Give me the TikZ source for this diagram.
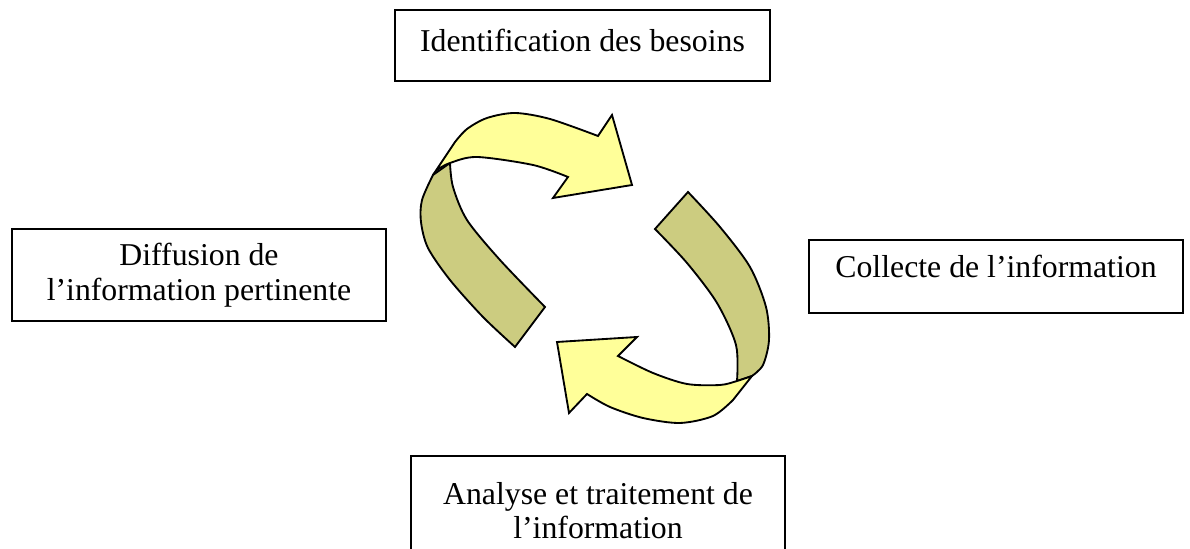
\documentclass[tikz,border=0pt]{standalone}
\usepackage{fontspec}
\setmainfont{Liberation Serif}
\usepackage{xcolor}
\definecolor{ribbon}{RGB}{255,255,153}
\definecolor{ribbonback}{RGB}{204,204,128}
\tikzset{
  stagebox/.style={draw, line width=0.75pt, minimum width=141.4pt, inner sep=0pt, align=center, font=\fontsize{12}{13}\selectfont},
  ribbonpart/.style={draw, line width=0.7pt},
}

\begin{document}
\begin{tikzpicture}[x=0.3776pt, y=-0.3776pt]
	\useasboundingbox (0,0) rectangle (1190,549);
	\clip (0,0) rectangle (1190,549);
	% Stages
	\node[stagebox, minimum height=26.8pt, text height=9pt, text depth=4.1pt] (besoins) at (582.5,45.5) {Identification des besoins};
	\node[stagebox, minimum height=34.7pt] (diffusion) at (199,275) {Diffusion de\\l’information pertinente};
	\node[stagebox, minimum height=27.6pt, text height=9pt, text depth=7.9pt] (collecte) at (996,276.5) {Collecte de l’information};
	\node[stagebox, minimum height=41.2pt] (analyse) at (598,510.5) {Analyse et traitement de\\l’information};
	% Upper left arrow
	\draw[ribbonpart, fill=ribbonback] plot[smooth] coordinates {(433,175) (422,200) (421,222) (428,248) (450,280) (483,317) (515,347)} -- (545,307) -- plot[smooth] coordinates {(545,307) (500,260) (467,220) (453,187) (450,163)} -- cycle;
	\draw[ribbonpart, fill=ribbon] (433,175) -- (455,142) -- plot[smooth] coordinates {(455,142) (467,129) (487,118) (515,113) (550,119) (598,136)} -- (612,115) -- (632,185) -- (553,198) -- (568,177) -- plot[smooth] coordinates {(568,177) (533,165) (477,157) (450,163) (437,170) (433,175)} -- cycle;
	% Lower right arrow
	\draw[ribbonpart, fill=ribbonback] plot[smooth] coordinates {(688,192) (720,227) (750,267) (766,307) (769,340) (763,365) (752,376)} -- (737,381) -- plot[smooth] coordinates {(737,381) (736,345) (717,303) (687,263) (655,229)} -- cycle;
	\draw[ribbonpart, fill=ribbon] (752,376) -- (733,400) -- plot[smooth] coordinates {(733,400) (713,416) (680,423) (643,418) (610,407) (587,394)} -- (569,413) -- (557,342) -- (637,337) -- (618,356) -- plot[smooth] coordinates {(618,356) (653,373) (687,384) (720,385) (737,381) (752,376)} -- cycle;
\end{tikzpicture}
\end{document}
